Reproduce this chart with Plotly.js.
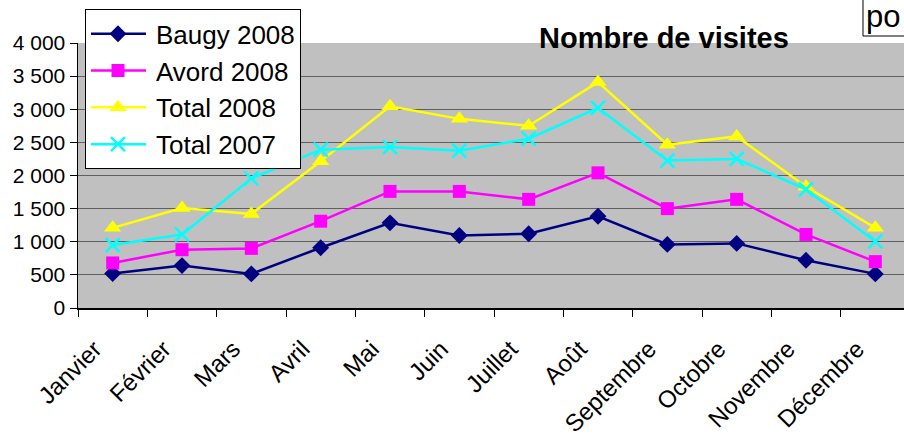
<!DOCTYPE html>
<html>
<head>
<meta charset="utf-8">
<script src="https://cdn.plot.ly/plotly-3.0.1.min.js"></script>
<style>
html,body{margin:0;padding:0;overflow:hidden;background:#fff;}
#chart{width:910px;height:439px;}
</style>
</head>
<body>
<div id="chart"></div>
<script>
var months = ["Janvier","Février","Mars","Avril","Mai","Juin","Juillet","Août","Septembre","Octobre","Novembre","Décembre"];
var baugy2008 = [520, 640, 515, 910, 1285, 1095, 1120, 1385, 960, 975, 720, 515];
var avord2008 = [680, 880, 900, 1310, 1760, 1760, 1640, 2040, 1500, 1640, 1110, 700];
var total2008 = [1210, 1510, 1420, 2215, 3045, 2855, 2750, 3410, 2465, 2590, 1830, 1210];
var total2007 = [950, 1110, 1955, 2390, 2430, 2375, 2555, 3020, 2225, 2250, 1790, 1005];
var seriesNames = ["Baugy 2008","Avord 2008","Total 2008","Total 2007"];
var yTicks = [0,500,1000,1500,2000,2500,3000,3500,4000];

var FONT = "Liberation Sans, Arial, sans-serif";

var traces = [
  {x: months, y: baugy2008, name: seriesNames[0], type: "scatter", mode: "lines+markers", legendgroup: "a",
   line: {color: "#000080", width: 2.5}, marker: {symbol: "diamond", size: 13, color: "#000080"}},
  {x: months, y: avord2008, name: seriesNames[1], type: "scatter", mode: "lines+markers", legendgroup: "b",
   line: {color: "#FF00FF", width: 2.5}, marker: {symbol: "square", size: 13, color: "#FF00FF"}},
  {x: months, y: total2008, name: seriesNames[2], type: "scatter", mode: "lines+markers", legendgroup: "c",
   line: {color: "#FFFF00", width: 2.5}, marker: {symbol: "triangle-up", size: 15, color: "#FFFF00"}},
  {x: months, y: total2007, name: seriesNames[3], type: "scatter", mode: "lines+markers", legendgroup: "d",
   line: {color: "#00FFFF", width: 2.5}, marker: {symbol: "x-thin", size: 14, line: {color: "#00FFFF", width: 2.5}}}
];

var layout = {
  width: 910, height: 439,
  margin: {l: 78, r: 0, t: 43, b: 130.5, pad: 0},
  paper_bgcolor: "#ffffff",
  plot_bgcolor: "#C0C0C0",
  separators: ", ",
  font: {family: FONT, color: "#000000"},
  showlegend: true,
  legend: {
    x: 0.0084, y: 1.127, xanchor: "left", yanchor: "top",
    bgcolor: "#ffffff", bordercolor: "#000000", borderwidth: 1,
    font: {family: FONT, size: 26, color: "#000000"},
    tracegroupgap: 8, traceorder: "normal", itemwidth: 60
  },
  xaxis: {
    type: "category",
    range: [-0.5, 11.5],
    showgrid: false,
    showline: true, linecolor: "#000000", linewidth: 1.5,
    ticks: "outside", tickson: "boundaries", ticklen: 7, tickcolor: "#000000", tickwidth: 1,
    tickangle: -45,
    ticklabelstandoff: 16, ticklabelshift: -18,
    tickfont: {family: FONT, size: 24, color: "#000000"},
    fixedrange: true
  },
  yaxis: {
    range: [0, 4000],
    tickvals: yTicks,
    tickformat: ",d",
    showgrid: true, gridcolor: "#5f5f5f", gridwidth: 1,
    zeroline: false,
    showline: true, linecolor: "#000000", linewidth: 1.5,
    ticks: "outside", ticklen: 7, tickcolor: "#000000", tickwidth: 1,
    tickfont: {family: FONT, size: 21, color: "#000000"},
    fixedrange: true
  },
  shapes: [
    {type: "rect", xref: "paper", yref: "paper", x0: 0.9435, x1: 1.05, y0: 1.0264, y1: 1.25,
     line: {color: "#000000", width: 1}, fillcolor: "#ffffff", layer: "above"}
  ],
  annotations: [
    {xref: "paper", yref: "paper", x: 0.704, y: 1.02, xanchor: "center", yanchor: "middle",
     text: "<b>Nombre de visites</b>", showarrow: false,
     font: {family: FONT, size: 29, color: "#000000"}},
    {xref: "paper", yref: "paper", x: 0.9445, y: 1.10, xanchor: "left", yanchor: "middle",
     text: "po", showarrow: false,
     font: {family: FONT, size: 31, color: "#000000"}}
  ]
};

Plotly.newPlot("chart", traces, layout, {displayModeBar: false, staticPlot: true, responsive: false}).then(function(gd){
  // lengthen legend sample lines to match the reference legend keys
  var lines = gd.querySelectorAll(".legend .legendlines path");
  lines.forEach(function(p){ p.setAttribute("d", "M5,0h55"); });
  var pts = gd.querySelectorAll(".legend .legendpoints path");
  pts.forEach(function(p){ p.setAttribute("transform", "translate(32,0)"); });
});
</script>
</body>
</html>
